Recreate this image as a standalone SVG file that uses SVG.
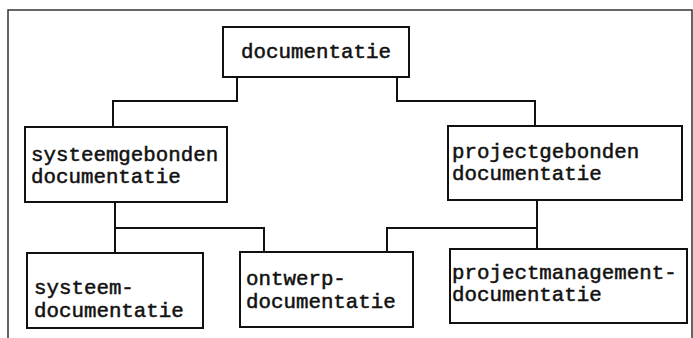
<svg xmlns="http://www.w3.org/2000/svg" width="693" height="338" viewBox="0 0 693 338">
<style>
.box{fill:#fff;stroke:#111;stroke-width:2}
.frame{fill:none;stroke:#333;stroke-width:1.5}
.conn{fill:none;stroke:#111;stroke-width:2}
text{font-family:"Liberation Mono","Courier New",monospace;font-size:20.8px;fill:#111;stroke:#111;stroke-width:0.5}
</style>
<rect width="693" height="338" fill="#fff"/>
<path class="frame" d="M8,338 V10 H692 V338"/>
<g id="connectors">
<path class="conn" d="M237,77 V101 H113 V127"/>
<path class="conn" d="M397,77 V101 H535 V126"/>
<path class="conn" d="M115,202 V253 M115,228 H264 V252"/>
<path class="conn" d="M537,200 V249 M537,228 H387 V252"/>
</g>
<g id="n-documentatie">
<rect class="box" x="223" y="27" width="186" height="50"/>
<text x="316" y="58" text-anchor="middle">documentatie</text>
</g>
<g id="n-systeemgebonden">
<rect class="box" x="25" y="127" width="202" height="75"/>
<text x="31" y="161">systeemgebonden</text>
<text x="31" y="183">documentatie</text>
</g>
<g id="n-projectgebonden">
<rect class="box" x="448" y="126" width="234" height="74"/>
<text x="452" y="158">projectgebonden</text>
<text x="452" y="180">documentatie</text>
</g>
<g id="n-systeem">
<rect class="box" x="27" y="253" width="176" height="75"/>
<text x="34" y="294">systeem-</text>
<text x="34" y="317">documentatie</text>
</g>
<g id="n-ontwerp">
<rect class="box" x="240" y="252" width="173" height="75"/>
<text x="246" y="285">ontwerp-</text>
<text x="246" y="308">documentatie</text>
</g>
<g id="n-projectmanagement">
<rect class="box" x="450" y="249" width="237" height="74"/>
<text x="452" y="279">projectmanagement-</text>
<text x="452" y="301">documentatie</text>
</g>
</svg>
